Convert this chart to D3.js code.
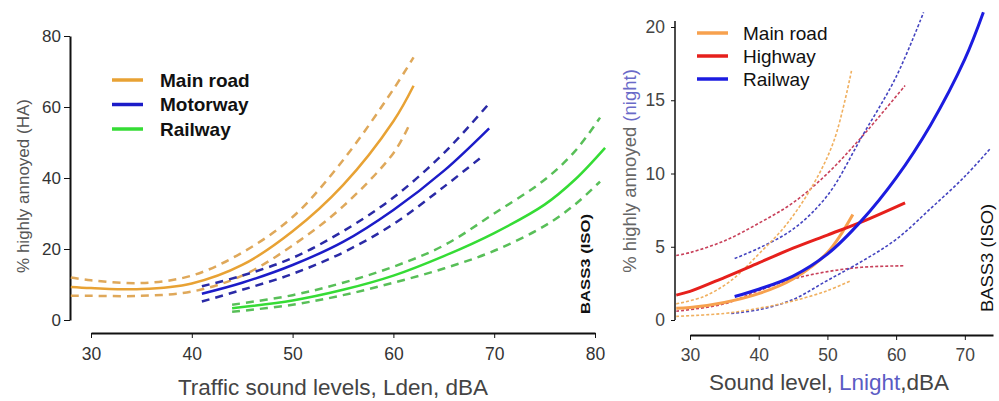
<!DOCTYPE html>
<html>
<head>
<meta charset="utf-8">
<script src="https://cdn.jsdelivr.net/npm/d3@7"></script>
<style>
  body { margin: 0; background: #fff; }
  svg { display: block; font-family: "Liberation Sans", Arial, sans-serif; }
</style>
</head>
<body>
<svg id="chart" width="999" height="401"></svg>
<script>
// ---- left panel: % highly annoyed vs Lden ----
const leftYTicks = [0, 20, 40, 60, 80];
const leftXTicks = [30, 40, 50, 60, 70, 80];

// [level, value] pairs
const mainRoadMid = [[28, 9.3], [30, 9.0], [35, 8.7], [40, 10.3], [45, 15.5], [50, 25], [55, 38], [60, 56], [62, 66]];
const mainRoadHi  = [[28, 12], [30, 11.2], [35, 10.4], [40, 12.5], [45, 19], [50, 29], [55, 45], [60, 65], [62, 74]];
const mainRoadLo  = [[28, 6.8], [30, 6.8], [35, 6.8], [40, 8], [45, 12.5], [50, 21], [55, 32], [60, 47], [61.5, 54.5]];

const motorwayMid = [[41, 7.4], [45, 10.5], [50, 15.5], [55, 22], [60, 31], [65, 42], [69.5, 54]];
const motorwayHi  = [[41, 9.5], [45, 12.5], [50, 17.5], [55, 25], [60, 34.5], [65, 47], [69.5, 61]];
const motorwayLo  = [[41, 5.2], [45, 8.5], [50, 13], [55, 19], [60, 27], [65, 37.5], [69, 46.5]];

const railLMid = [[44, 3.3], [50, 5.5], [55, 8.5], [60, 12.5], [65, 18], [70, 24.5], [75, 32.5], [78, 39.5], [81, 48.5]];
const railLHi  = [[44, 4.3], [50, 7], [55, 10.5], [60, 15], [65, 21], [70, 30], [75, 39.5], [78, 47.5], [80.5, 57]];
const railLLo  = [[44, 2.3], [50, 4.3], [55, 7], [60, 10.5], [65, 14.5], [70, 19.5], [75, 26.5], [78, 32.5], [80.5, 39]];

// ---- right panel: % highly annoyed (night) vs Lnight ----
const rightYTicks = [0, 5, 10, 15, 20];
const rightXTicks = [30, 40, 50, 60, 70];

const nMainMid = [[28, 0.8], [30, 0.85], [35, 1.2], [40, 1.8], [45, 2.8], [50, 4.6], [53.7, 7.2]];
const nMainHi  = [[28, 1.1], [32, 1.6], [36, 2.7], [40, 4.5], [44, 6.5], [48, 9.3], [51, 12.3], [53.5, 17]];
const nMainLo  = [[28, 0.25], [35, 0.45], [40, 0.8], [45, 1.3], [50, 2.0], [53.5, 2.7]];

const nHighwayMid = [[28, 1.7], [30, 1.95], [35, 2.9], [40, 3.9], [45, 4.9], [50, 5.8], [55, 6.7], [61.3, 8.0]];
const nHighwayHi  = [[28, 4.4], [30, 4.6], [35, 5.4], [40, 6.6], [45, 8.0], [50, 10.0], [55, 12.5], [61.3, 16]];
const nHighwayLo  = [[28, 0.6], [35, 1.1], [40, 2.0], [45, 2.8], [50, 3.3], [55, 3.6], [61.3, 3.7]];

const nRailMid = [[36.5, 1.6], [40, 2.1], [45, 3.0], [50, 4.5], [55, 6.8], [60, 9.7], [65, 13.3], [70, 17.8], [72.7, 21]];
const nRailHi  = [[36.5, 4.2], [40, 4.9], [45, 6.2], [50, 8.5], [55, 12.5], [60, 16.6], [64, 21]];
const nRailLo  = [[36, 0.45], [40, 0.7], [45, 1.4], [50, 2.7], [55, 4.0], [60, 5.5], [65, 7.6], [70, 9.8], [73.7, 11.7]];

const svg = d3.select("#chart");

// scales
const xL = d3.scaleLinear().domain([30, 80]).range([91, 595]);
const yL = d3.scaleLinear().domain([0, 80]).range([320, 36]);
const xR = d3.scaleLinear().domain([30, 74.1]).range([690, 993]);
const yR = d3.scaleLinear().domain([0, 20]).range([320, 27]);

function drawLine(g, data, x, y, color, width, dash) {
  const line = d3.line().x(d => x(d[0])).y(d => y(d[1])).curve(d3.curveCatmullRom.alpha(0.5));
  g.append("path")
    .datum(data)
    .attr("d", line)
    .attr("fill", "none")
    .attr("stroke", color)
    .attr("stroke-width", width)
    .attr("stroke-dasharray", dash || null)
    .attr("stroke-linecap", "butt");
}

function styleAxis(g, size, color) {
  g.selectAll("text").attr("font-size", size).attr("fill", color);
  g.selectAll("line").attr("stroke", "#111");
  g.select(".domain").attr("stroke", "#111");
}

// ===== left panel =====
const left = svg.append("g");

left.append("g")
  .attr("transform", "translate(70,0)")
  .call(d3.axisLeft(yL).tickValues(leftYTicks).tickSize(6).tickSizeOuter(0).tickPadding(3))
  .call(g => styleAxis(g, 17, "#333"))
  .call(g => g.select(".domain").attr("stroke-width", 2));

left.append("g")
  .attr("transform", "translate(0,333)")
  .call(d3.axisBottom(xL).tickValues(leftXTicks).tickSize(5).tickSizeOuter(0).tickPadding(10))
  .call(g => styleAxis(g, 17.5, "#333"))
  .call(g => g.select(".domain").attr("stroke-width", 2));

left.append("text")
  .attr("x", 333).attr("y", 395)
  .attr("text-anchor", "middle")
  .attr("font-size", 22.5).attr("fill", "#444")
  .text("Traffic sound levels, Lden, dBA");

left.append("text")
  .attr("transform", "translate(29,186) rotate(-90)")
  .attr("text-anchor", "middle")
  .attr("font-size", 17).attr("fill", "#555")
  .text("% highly annoyed (HA)");

left.append("text")
  .attr("transform", "translate(590,264) rotate(-90)")
  .attr("text-anchor", "middle")
  .attr("font-size", 13).attr("font-weight", "bold").attr("fill", "#111")
  .attr("textLength", 100).attr("lengthAdjust", "spacingAndGlyphs")
  .text("BASS3 (ISO)");

const cMain = "#e8a234", cMainD = "#dfa85a";
const cMot = "#1c1cc8", cMotD = "#2a2aa6";
const cRail = "#35dc35", cRailD = "#58bf58";

drawLine(left, mainRoadHi, xL, yL, cMainD, 2.5, "8,6");
drawLine(left, mainRoadLo, xL, yL, cMainD, 2.5, "8,6");
drawLine(left, mainRoadMid, xL, yL, cMain, 2.5);
drawLine(left, motorwayHi, xL, yL, cMotD, 2.5, "8,6");
drawLine(left, motorwayLo, xL, yL, cMotD, 2.5, "8,6");
drawLine(left, motorwayMid, xL, yL, cMot, 2.5);
drawLine(left, railLHi, xL, yL, cRailD, 2.5, "8,6");
drawLine(left, railLLo, xL, yL, cRailD, 2.5, "8,6");
drawLine(left, railLMid, xL, yL, cRail, 2.5);

const leftLegend = [["Main road", cMain], ["Motorway", cMot], ["Railway", cRail]];
const lg = left.append("g").selectAll("g").data(leftLegend).join("g")
  .attr("transform", (d, i) => `translate(112,${80 + i * 24.5})`);
lg.append("line").attr("x1", 0).attr("x2", 31).attr("stroke", d => d[1]).attr("stroke-width", 3.5);
lg.append("text").attr("x", 48).attr("y", 6.5)
  .attr("font-size", 19).attr("font-weight", "bold").attr("fill", "#111")
  .text(d => d[0]);

// ===== right panel =====
const right = svg.append("g");

right.append("g")
  .attr("transform", "translate(675,0)")
  .call(d3.axisLeft(yR).tickValues(rightYTicks).tickSize(4).tickSizeOuter(0).tickPadding(6))
  .call(g => styleAxis(g, 17.5, "#444"))
  .call(g => g.select(".domain").attr("stroke-width", 1.5).attr("d", "M0,320V21"));

right.append("g")
  .attr("transform", "translate(0,335)")
  .call(d3.axisBottom(xR).tickValues(rightXTicks).tickSize(5).tickSizeOuter(0).tickPadding(9))
  .call(g => styleAxis(g, 17.5, "#444"))
  .call(g => g.select(".domain").attr("stroke-width", 2));

const xTitle = right.append("text")
  .attr("x", 829).attr("y", 390)
  .attr("text-anchor", "middle")
  .attr("font-size", 22.5).attr("fill", "#444");
xTitle.append("tspan").text("Sound level, ");
xTitle.append("tspan").attr("fill", "#5b5bc4").text("Lnight");
xTitle.append("tspan").text(",dBA");

const yTitle = right.append("text")
  .attr("transform", "translate(636,171) rotate(-90)")
  .attr("text-anchor", "middle")
  .attr("font-size", 18.5).attr("fill", "#666");
yTitle.append("tspan").text("% highly annoyed ");
yTitle.append("tspan").attr("fill", "#6a6ac8").text("(night)");

right.append("text")
  .attr("transform", "translate(993,258) rotate(-90)")
  .attr("text-anchor", "middle")
  .attr("font-size", 17).attr("fill", "#111")
  .attr("textLength", 108).attr("lengthAdjust", "spacingAndGlyphs")
  .text("BASS3 (ISO)");

const rMain = "#f7a14e", rMainD = "#f0b060";
const rHigh = "#e6201c", rHighD = "#c8405a";
const rRail = "#1c1ce0", rRailD = "#4444c0";

drawLine(right, nHighwayHi, xR, yR, rHighD, 1.6, "3,2");
drawLine(right, nHighwayLo, xR, yR, rHighD, 1.6, "3,2");
drawLine(right, nRailHi, xR, yR, rRailD, 1.6, "3,2");
drawLine(right, nRailLo, xR, yR, rRailD, 1.6, "3,2");
drawLine(right, nMainHi, xR, yR, rMainD, 1.6, "3,2");
drawLine(right, nMainLo, xR, yR, rMainD, 1.6, "3,2");
drawLine(right, nMainMid, xR, yR, rMain, 3);
drawLine(right, nHighwayMid, xR, yR, rHigh, 3);
drawLine(right, nRailMid, xR, yR, rRail, 3);

const rightLegend = [["Main road", rMain], ["Highway", rHigh], ["Railway", rRail]];
const rg = right.append("g").selectAll("g").data(rightLegend).join("g")
  .attr("transform", (d, i) => `translate(697,${33 + i * 23})`);
rg.append("line").attr("x1", 0).attr("x2", 31).attr("stroke", d => d[1]).attr("stroke-width", 3.5);
rg.append("text").attr("x", 46).attr("y", 6.5)
  .attr("font-size", 19).attr("fill", "#111")
  .text(d => d[0]);
</script>
</body>
</html>
